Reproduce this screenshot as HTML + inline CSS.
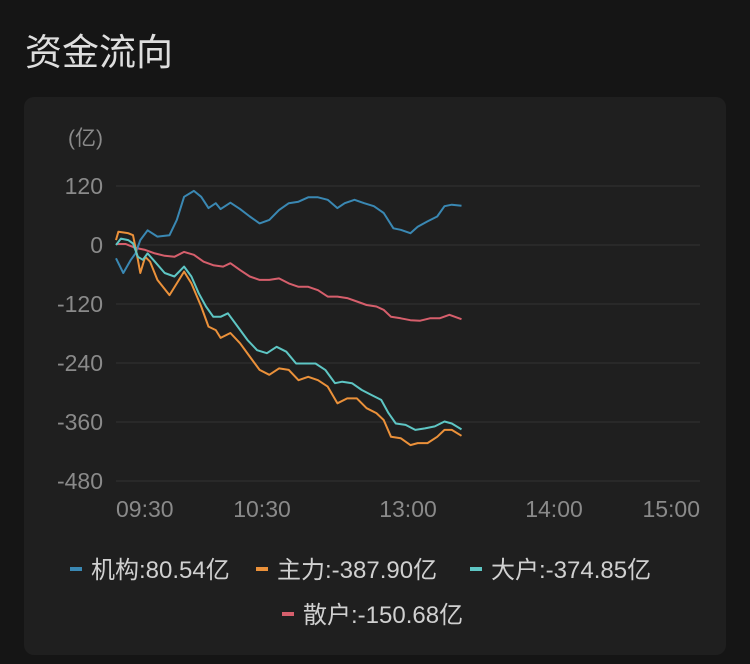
<!DOCTYPE html>
<html><head><meta charset="utf-8">
<style>
html,body{margin:0;padding:0;background:#151515;width:750px;height:664px;overflow:hidden;font-family:"Liberation Sans","Noto Sans CJK SC",sans-serif;}
#title{position:absolute;left:25px;top:22px;font-size:37px;color:#dedede;}
#card{position:absolute;left:24px;top:97px;width:702px;height:558px;background:#1f1f1f;border-radius:10px;}
svg{position:absolute;left:0;top:0;}
</style></head>
<body>
<div id="title">资金流向</div>
<div id="card"></div>
<svg id="chart" width="750" height="664"></svg>
<script>
const yTicks=[120,0,-120,-240,-360,-480];
const xTickLabels=["09:30","10:30","13:00","14:00","15:00"];
const xTickMinutes=[0,60,120,180,240];
const seriesNames=["机构","主力","大户","散户"];
const seriesTotals=["80.54","-387.90","-374.85","-150.68"];
const instMin=[0,3,6,8,10,13,17,22,25,28,32,35,38,41,43,47,51,55,59,63,67,71,75,79,83,87,91,94,98,102,106,110,114,117,121,124,128,132,135,138,142];
const instVal=[-27,-57,-31,-17,10,30,17,20,51,98,110,98,75,85,73,86,73,58,44,51,71,85,88,97,97,92,75,85,92,85,79,65,34,31,24,37,48,58,79,82,80];
const mainMin=[0,1,5,7,9,10,12,14,17,22,25,28,31,35,38,41,43,47,51,55,59,63,67,71,75,79,83,87,91,95,99,103,107,110,113,117,121,124,128,132,135,138,142];
const mainVal=[10,27,24,20,-30,-57,-24,-34,-71,-102,-78,-54,-78,-125,-166,-173,-189,-179,-200,-227,-254,-264,-251,-254,-275,-268,-275,-288,-322,-312,-312,-332,-342,-356,-390,-393,-407,-403,-403,-390,-376,-376,-388];
const bigMin=[0,2,5,7,9,11,13,16,20,24,28,31,34,37,40,43,46,50,54,58,62,66,70,74,78,82,86,90,93,97,101,105,109,112,115,119,123,127,131,135,138,142];
const bigVal=[0,13,10,3,-24,-30,-17,-34,-57,-64,-44,-64,-98,-125,-146,-146,-139,-166,-193,-214,-220,-207,-217,-241,-241,-241,-254,-281,-278,-281,-295,-305,-315,-342,-363,-366,-376,-373,-369,-359,-363,-375];
const retailMin=[0,4,8,12,16,20,24,28,32,36,40,44,47,51,55,59,63,67,71,75,79,83,87,91,95,99,103,107,110,113,117,121,125,129,133,137,142];
const retailVal=[2,2,-6,-10,-17,-22,-24,-14,-20,-34,-41,-44,-37,-51,-64,-71,-71,-68,-78,-85,-85,-92,-105,-105,-108,-115,-122,-125,-132,-146,-149,-153,-154,-149,-149,-142,-151];

const NS="http://www.w3.org/2000/svg";
const svg=document.getElementById('chart');
const X0=116,X1=700;
const xs=m=>X0+(X1-X0)*m/240;
const ys=v=>245-(v)*59/120;
function mk(t,attrs){const e=document.createElementNS(NS,t);for(const k in attrs)e.setAttribute(k,attrs[k]);svg.appendChild(e);return e;}
let u=mk('text',{x:103,y:145,'text-anchor':'end','font-size':21,fill:'#8a8a8a','font-family':'"Liberation Sans","Noto Sans CJK SC",sans-serif'});
u.textContent='(亿)';


yTicks.forEach(v=>{
  const g=mk('line',{x1:X0,x2:X1,y1:ys(v),y2:ys(v),stroke:'#333',"stroke-width":1});
  
  
  const t=mk('text',{x:103,y:ys(v)+8,'text-anchor':'end','font-size':23,fill:'#8a8a8a','font-family':'"Liberation Sans",sans-serif'});
  t.textContent=v;
  
  
});
xTickLabels.forEach((l,i)=>{
  const x=xs(xTickMinutes[i]);
  const anchor=i===0?'start':(i===xTickLabels.length-1?'end':'middle');
  const t=mk('text',{x:x,y:517,'text-anchor':anchor,'font-size':23,fill:'#8a8a8a','font-family':'"Liberation Sans",sans-serif'});
  t.textContent=l;
  
  
});
const colors=['#3a88b3','#eb913a','#5ec6c4','#d65f6c'];
const mins=[instMin,mainMin,bigMin,retailMin];
const vals=[instVal,mainVal,bigVal,retailVal];
const lineNames=['line-institution','line-main','line-large','line-retail'];
[3,0,1,2].forEach(i=>{
  const d=mins[i].map((m,j)=>(j?'L':'M')+xs(m).toFixed(1)+' '+ys(vals[i][j]).toFixed(1)).join(' ');
  const p=mk('path',{d:d,fill:'none',stroke:colors[i],'stroke-width':2,'stroke-linejoin':'round'});
  
  
});
const legPos=[[70,569],[256,569],[470,569],[282,614]];
const legNames=['legend-institution','legend-main','legend-large','legend-retail'];
seriesNames.forEach((n,i)=>{
  const [x,y]=legPos[i];
  const r=mk('rect',{x:x,y:y-2,width:12,height:4,fill:colors[i]});
  
  
  const t=mk('text',{x:x+21,y:y+9,'font-size':24,fill:'#d0d0d0','font-family':'"Liberation Sans","Noto Sans CJK SC",sans-serif'});
  t.textContent=n+':'+seriesTotals[i]+'亿';
  
  
});
</script>
</body></html>
